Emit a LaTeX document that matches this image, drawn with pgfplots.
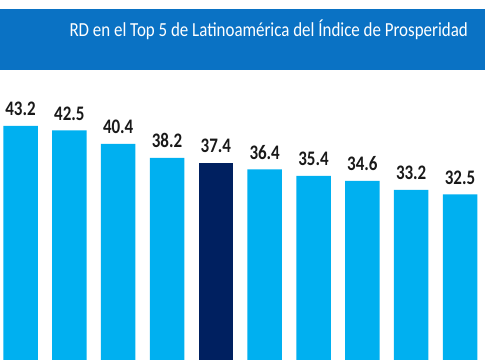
\documentclass[border=0pt]{standalone}
\usepackage{fontspec}
\setmainfont{Carlito}
\usepackage{graphicx}
\usepackage{pgfplots}
\pgfplotsset{compat=1.18}
\definecolor{lightbar}{HTML}{00B0F0}
\definecolor{darkbar}{HTML}{002060}
\definecolor{banner}{HTML}{0A72C4}
\begin{document}
\begin{tikzpicture}
\begin{axis}[
  scale only axis,
  width=485pt, height=360pt,
  xmin=-0.42, xmax=9.512,
  ymin=6.52, ymax=62.95,
  axis lines=none,
  ticks=none,
  ybar, bar width=34.5pt,
  /pgf/bar shift=0pt,
  nodes near coords={\scalebox{0.97}[1.18]{\pgfmathprintnumber[fixed,precision=1,fixed zerofill,assume math mode=true]{\pgfplotspointmeta}}},
  nodes near coords style={font=\fontsize{17.5}{20}\selectfont\bfseries, text=black!90},
  every node near coord/.append style={anchor=base, yshift=10pt},
]
\fill[white] (rel axis cs:0,0) rectangle (rel axis cs:1,1);
\fill[banner] (rel axis cs:0,0.8056) rectangle (rel axis cs:1,0.975);
\node[anchor=base east, text=white, font=\fontsize{16.6}{19}\selectfont, inner sep=0pt] at (rel axis cs:0.965,0.898) {\scalebox{1.02}[1.2]{RD en el Top 5 de Latinoamérica del Índice de Prosperidad}};
\addplot[fill=lightbar, draw=none] coordinates {(0,43.2) (1,42.5) (2,40.4) (3,38.2) (5,36.4) (6,35.4) (7,34.6) (8,33.2) (9,32.5)};
\addplot[fill=darkbar, draw=none] coordinates {(4,37.4)};
\end{axis}
\end{tikzpicture}
\end{document}
